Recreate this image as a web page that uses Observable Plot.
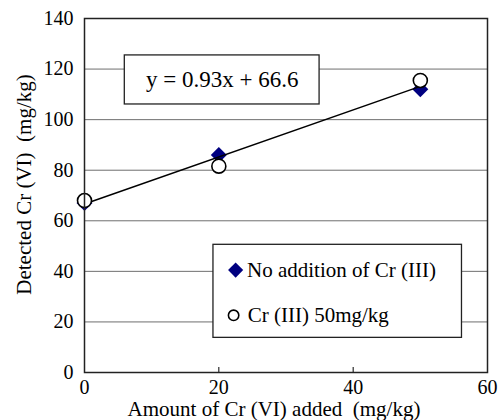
<!DOCTYPE html>
<html>
<head>
<meta charset="utf-8">
<script src="https://cdn.jsdelivr.net/npm/d3@7"></script>
<script src="https://cdn.jsdelivr.net/npm/@observablehq/plot@0.6"></script>
<style>
  html, body { margin: 0; padding: 0; background: #fff; }
  svg text { white-space: pre; }
</style>
</head>
<body>
<div id="chart"></div>
<script>
// Data
const addedCrVI = [0, 20, 50];
const noAdditionCrIII = [67, 86, 112];
const crIII50 = [68, 81.6, 115.5];
const seriesNames = ["No addition of Cr (III)", "Cr (III) 50mg/kg"];
const xTicks = [0, 20, 40, 60];
const yTicks = [0, 20, 40, 60, 80, 100, 120, 140];
const equationText = "y = 0.93x + 66.6";
const xLabel = "Amount of Cr (VI) added  (mg/kg)";
const yLabel = "Detected Cr (VI)  (mg/kg)";

// Annotation boxes (data units)
const eqBox = [{x1: 6, x2: 35, y1: 106, y2: 125.4}];
const legendBox = [{x1: 19.2, x2: 56.2, y1: 13.7, y2: 50.5}];
const legendRows = [
  {x: 22.5, tx: 24.2, y: 40.5, name: seriesNames[0]},
  {x: 22.2, tx: 24.3, y: 22.6, name: seriesNames[1]}
];

const diamonds = addedCrVI.map((x, i) => ({x, y: noAdditionCrIII[i]}));
const circles = addedCrVI.map((x, i) => ({x, y: crIII50[i]}));
const all = diamonds.concat(circles);

const font = "'Liberation Serif', 'Times New Roman', serif";

const chart = Plot.plot({
  width: 498,
  height: 420,
  marginLeft: 84,
  marginRight: 11,
  marginTop: 18,
  marginBottom: 48,
  style: {fontFamily: font, background: "#fff", color: "#000"},
  x: {domain: [0, 60]},
  y: {domain: [0, 140]},
  marks: [
    Plot.gridY(yTicks.filter(d => d > 0 && d < 140), {stroke: "#6e6e6e", strokeOpacity: 1, strokeWidth: 1}),
    Plot.axisY(yTicks, {tickSize: 0, tickPadding: 11, fontSize: 20, label: null}),
    Plot.axisX(xTicks, {tickSize: 0, tickPadding: 7, fontSize: 20, label: null}),
    Plot.axisX([20, 40], {tickSize: 5, dy: -5, tickFormat: () => "", label: null, stroke: "#000"}),
    Plot.text([xLabel], {frameAnchor: "bottom", dy: 37, dx: -12, fontSize: 21, lineAnchor: "middle", textAnchor: "middle"}),
    Plot.text([yLabel], {frameAnchor: "left", dx: -60, dy: -11, rotate: -90, fontSize: 21, lineAnchor: "middle", textAnchor: "middle"}),
    // equation box
    Plot.rect(eqBox, {x1: "x1", x2: "x2", y1: "y1", y2: "y2", fill: "#fff", stroke: "#222", strokeWidth: 1.3}),
    Plot.text([equationText], {x: (eqBox[0].x1 + eqBox[0].x2) / 2, y: (eqBox[0].y1 + eqBox[0].y2) / 2, fontSize: 23, lineAnchor: "middle"}),
    // legend box
    Plot.rect(legendBox, {x1: "x1", x2: "x2", y1: "y1", y2: "y2", fill: "#fff", stroke: "#222", strokeWidth: 1.3}),
    Plot.dot(legendRows.slice(0, 1), {x: "x", y: "y", symbol: "diamond2", r: 6.8, fill: "#000080", stroke: "none"}),
    Plot.dot(legendRows.slice(1), {x: "x", y: "y", symbol: "circle", r: 5.2, fill: "#fff", stroke: "#000", strokeWidth: 1.6}),
    Plot.text(legendRows, {x: "tx", y: "y", text: "name", textAnchor: "start", fontSize: 21, lineAnchor: "middle"}),
    // data
    Plot.dot(diamonds, {x: "x", y: "y", symbol: "diamond2", r: 7.2, fill: "#000080", stroke: "none"}),
    Plot.linearRegressionY(all, {x: "x", y: "y", ci: 0, stroke: "#000", strokeWidth: 1.5}),
    Plot.dot(circles, {x: "x", y: "y", symbol: "circle", r: 7, fill: "#fff", stroke: "#000", strokeWidth: 1.6}),
    Plot.frame({stroke: "#222", strokeWidth: 1.5})
  ]
});
document.getElementById("chart").appendChild(chart);
</script>
</body>
</html>
